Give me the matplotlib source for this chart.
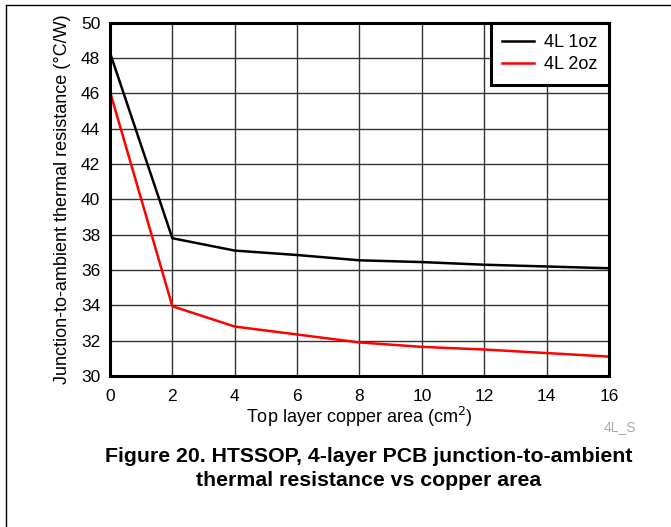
import matplotlib.pyplot as plt
from matplotlib.lines import Line2D

plt.rcParams['font.family'] = ['Liberation Sans', 'DejaVu Sans']

# copper area (cm^2)
area = [0, 2, 4, 6, 8, 10, 12, 14, 16]
# junction-to-ambient thermal resistance (C/W)
r_1oz = [48.3, 37.8, 37.1, 36.85, 36.55, 36.45, 36.3, 36.2, 36.1]
r_2oz = [46.1, 33.95, 32.8, 32.35, 31.9, 31.65, 31.5, 31.3, 31.1]

xticks = list(range(0, 17, 2))
yticks = list(range(30, 51, 2))

fig = plt.figure(figsize=(6.71, 5.27), dpi=100)
ax = fig.add_axes([0.1639, 0.2865, 0.7437, 0.6704])

ax.plot(area, r_1oz, color='black', lw=1.8, label='4L 1oz', zorder=3)
ax.plot(area, r_2oz, color='#ff0000', lw=1.8, label='4L 2oz', zorder=3)

ax.set_xlim(0, 16)
ax.set_ylim(30, 50)
ax.set_xticks(xticks)
ax.set_yticks(yticks)
ax.tick_params(length=0, labelsize=12.5)
ax.tick_params(axis='x', pad=9)
ax.tick_params(axis='y', pad=7)
ax.grid(True, color='#333333', lw=1.0)
for s in ax.spines.values():
    s.set_linewidth(2.2)
    s.set_zorder(4)

ax.set_xlabel('Top layer copper area (cm$^2$)', fontsize=13, labelpad=1)
ax.set_ylabel('Junction-to-ambient thermal resistance (°C/W)', fontsize=13, labelpad=7)

leg = ax.legend(loc='upper right', borderaxespad=0, fancybox=False, fontsize=13,
                handlelength=1.75, handletextpad=0.6, labelspacing=0.3,
                borderpad=0.62)
leg.get_frame().set_edgecolor('black')
leg.get_frame().set_linewidth(2.2)
leg.get_frame().set_alpha(1)
leg.set_zorder(5)

fig.text(620 / 671, 1 - 427 / 527, '4L_S', color='#aaaaaa', fontsize=10,
         ha='center', va='center')
fig.text(369 / 671, 1 - 456 / 527, 'Figure 20. HTSSOP, 4-layer PCB junction-to-ambient',
         fontsize=15.3, fontweight='bold', ha='center', va='center')
fig.text(369 / 671, 1 - 481 / 527, 'thermal resistance vs copper area',
         fontsize=15.3, fontweight='bold', ha='center', va='center')

# page frame (top and left edges)
fig.add_artist(Line2D([6 / 671, 6 / 671], [0, 1 - 5 / 527], color='black', lw=1.0))
fig.add_artist(Line2D([6 / 671, 1], [1 - 5 / 527, 1 - 5 / 527], color='black', lw=1.0))

fig.savefig('out.png', dpi=100)
